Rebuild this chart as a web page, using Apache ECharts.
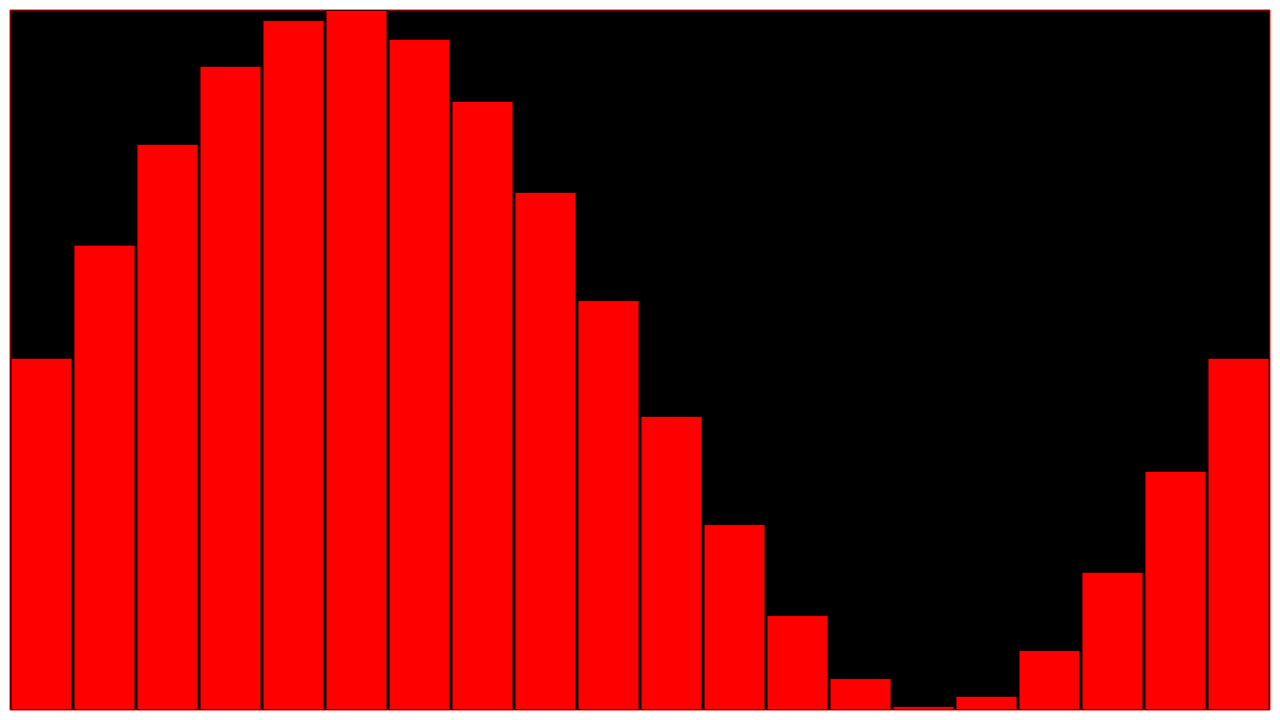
<!DOCTYPE html>
<html>
<head>
<meta charset="utf-8">
<script src="https://cdn.jsdelivr.net/npm/echarts@6/dist/echarts.min.js"></script>
<style>html,body{margin:0;padding:0;background:#fff;}#chart{width:1280px;height:720px;}</style>
</head>
<body>
<div id="chart"></div>
<script>
const categories = ["1","2","3","4","5","6","7","8","9","10","11","12","13","14","15","16","17","18","19","20"];
const values = [1.006, 1.329, 1.617, 1.84, 1.971, 2.0, 1.917, 1.74, 1.48, 1.171, 0.84, 0.531, 0.271, 0.091, 0.011, 0.04, 0.171, 0.394, 0.683, 1.006];

const chart = echarts.init(document.getElementById('chart'));
chart.setOption({
  animation: false,
  backgroundColor: '#fff',
  grid: { left: 10, right: 10, top: 10, bottom: 10, show: true, backgroundColor: '#000', borderColor: '#ff0000', borderWidth: 1, containLabel: false },
  xAxis: { type: 'category', data: categories, show: false, boundaryGap: true },
  yAxis: { type: 'value', min: 0, max: 2, show: false, splitLine: { show: false } },
  series: [{
    type: 'bar',
    data: values,
    barCategoryGap: '2%',
    itemStyle: { color: '#ff0000', borderColor: 'rgba(0,0,0,0.6)', borderWidth: 1 }
  }]
});
</script>
</body>
</html>
